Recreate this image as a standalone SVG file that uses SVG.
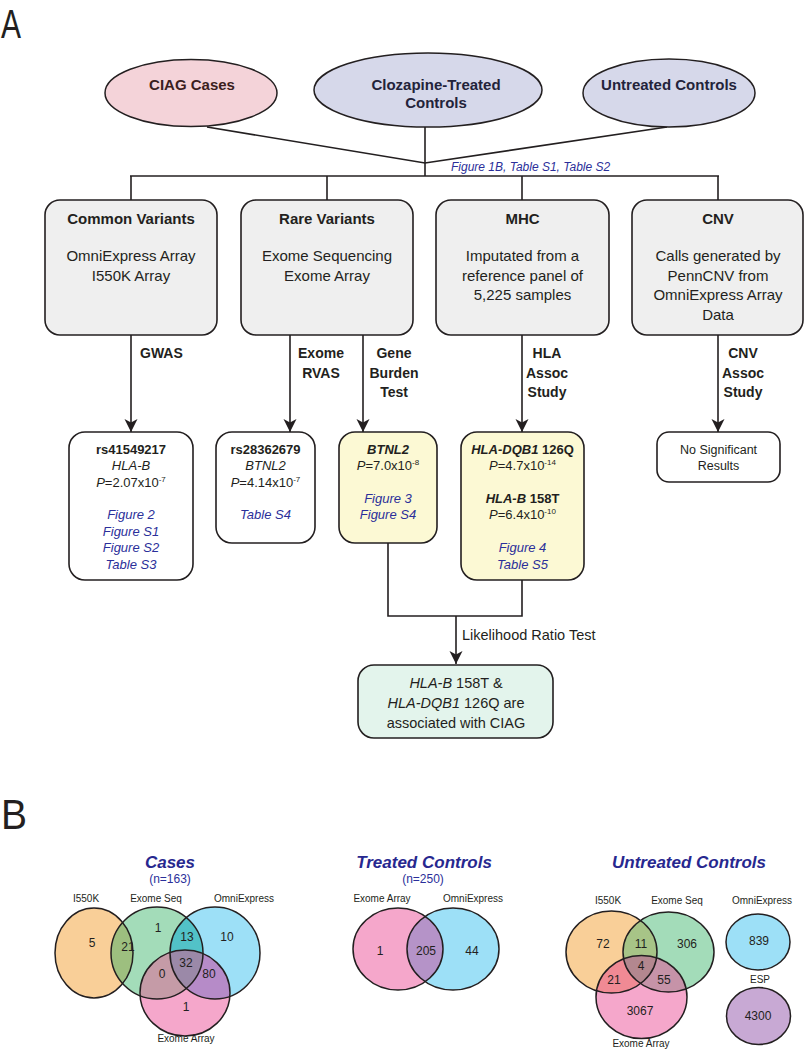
<svg xmlns="http://www.w3.org/2000/svg" width="805" height="1050" viewBox="0 0 805 1050">
<style>
text{font-family:"Liberation Sans",Arial,sans-serif;fill:#231f20}
.b{font-weight:bold}
.i{font-style:italic}
.lnk{font-style:italic;fill:#2b2f9a}
.ttl{font-style:italic;font-weight:bold;fill:#27288f}
.m{text-anchor:middle}
.box{fill:#efefef;stroke:#231f20;stroke-width:1.6}
.wbox{fill:#ffffff;stroke:#231f20;stroke-width:1.6}
.ybox{fill:#fcf9d4;stroke:#231f20;stroke-width:1.6}
.gbox{fill:#e3f4ec;stroke:#231f20;stroke-width:1.6}
.conn{stroke:#231f20;stroke-width:1.6;fill:none}
.ol{fill:none;stroke:#231f20;stroke-width:1.5}
.top{font-size:15px;font-weight:bold}
.bt{font-size:15px}
.lab{font-size:14px;font-weight:bold}
.r{font-size:13px}
.vl{font-size:10px}
.vn{font-size:12px}
</style>
<defs>
<marker id="arr" markerUnits="userSpaceOnUse" viewBox="0 0 14 14" markerWidth="14" markerHeight="14" refX="13" refY="7" orient="auto">
<path d="M0,0.5 L13,7 L0,13.5 L3.5,7 Z" fill="#231f20"/>
</marker>
<clipPath id="cO1"><ellipse cx="94" cy="953" rx="39" ry="45"/></clipPath>
<clipPath id="cG1"><ellipse cx="157" cy="953" rx="46" ry="46"/></clipPath>
<clipPath id="cC1"><ellipse cx="215" cy="953" rx="45" ry="46"/></clipPath>
<clipPath id="cC2"><ellipse cx="453" cy="949" rx="46" ry="41"/></clipPath>
<clipPath id="cO3"><ellipse cx="611.5" cy="952" rx="45.5" ry="41"/></clipPath>
<clipPath id="cG3"><ellipse cx="668.5" cy="952" rx="45.5" ry="40"/></clipPath>
</defs>

<text x="1" y="38" font-size="41" textLength="20" lengthAdjust="spacingAndGlyphs">A</text>
<text x="1" y="829" font-size="43" textLength="26" lengthAdjust="spacingAndGlyphs">B</text>

<g id="connectors">
<polyline class="conn" points="207,127 425,163 667,127"/>
<line class="conn" x1="425" y1="127" x2="425" y2="176"/>
<line class="conn" x1="130" y1="176" x2="719" y2="176"/>
<line class="conn" x1="131" y1="176" x2="131" y2="200"/>
<line class="conn" x1="327" y1="176" x2="327" y2="200"/>
<line class="conn" x1="522" y1="176" x2="522" y2="200"/>
<line class="conn" x1="718" y1="176" x2="718" y2="200"/>
<line class="conn" x1="131" y1="335" x2="131" y2="432" marker-end="url(#arr)"/>
<line class="conn" x1="290" y1="335" x2="290" y2="432" marker-end="url(#arr)"/>
<line class="conn" x1="363" y1="335" x2="363" y2="432" marker-end="url(#arr)"/>
<line class="conn" x1="522" y1="335" x2="522" y2="432" marker-end="url(#arr)"/>
<line class="conn" x1="718" y1="335" x2="718" y2="432" marker-end="url(#arr)"/>
<polyline class="conn" points="388,543 388,616 522,616 522,580"/>
<line class="conn" x1="456" y1="616" x2="456" y2="664" marker-end="url(#arr)"/>
<text x="451" y="171" font-size="12" class="lnk">Figure 1B, Table S1, Table S2</text>
<text x="140" y="358" class="lab">GWAS</text>
<text x="321" y="358" class="lab m">Exome</text>
<text x="321" y="378" class="lab m">RVAS</text>
<text x="394" y="358" class="lab m">Gene</text>
<text x="394" y="378" class="lab m">Burden</text>
<text x="394" y="397" class="lab m">Test</text>
<text x="547" y="358" class="lab m">HLA</text>
<text x="547" y="378" class="lab m">Assoc</text>
<text x="547" y="397" class="lab m">Study</text>
<text x="743" y="358" class="lab m">CNV</text>
<text x="743" y="378" class="lab m">Assoc</text>
<text x="743" y="397" class="lab m">Study</text>
<text x="462" y="640" font-size="14.5">Likelihood Ratio Test</text>
</g>

<g id="ciag-cases">
<ellipse cx="191" cy="93" rx="86" ry="33.5" fill="#f4d3d9" stroke="#231f20" stroke-width="1.5"/>
<text x="192" y="90" class="top m" style="fill:#3b1e1e">CIAG Cases</text>
</g>
<g id="clozapine-controls">
<ellipse cx="428" cy="90" rx="114" ry="37" fill="#d6d8ea" stroke="#231f20" stroke-width="1.5"/>
<text x="436" y="90" class="top m" style="fill:#23233a">Clozapine-Treated</text>
<text x="436" y="108" class="top m" style="fill:#23233a">Controls</text>
</g>
<g id="untreated-controls">
<ellipse cx="669" cy="93" rx="86" ry="34" fill="#d6d8ea" stroke="#231f20" stroke-width="1.5"/>
<text x="669" y="90" class="top m" style="fill:#23233a">Untreated Controls</text>
</g>

<g id="common-variants">
<rect class="box" x="45" y="200" width="172" height="135" rx="15"/>
<text x="131" y="224" class="top m">Common Variants</text>
<text x="131" y="261" class="bt m">OmniExpress Array</text>
<text x="131" y="281" class="bt m">I550K Array</text>
</g>
<g id="rare-variants">
<rect class="box" x="241" y="200" width="172" height="135" rx="15"/>
<text x="327" y="224" class="top m">Rare Variants</text>
<text x="327" y="261" class="bt m">Exome Sequencing</text>
<text x="327" y="281" class="bt m">Exome Array</text>
</g>
<g id="mhc">
<rect class="box" x="436" y="200" width="173" height="135" rx="15"/>
<text x="522.5" y="224" class="top m">MHC</text>
<text x="522.5" y="261" class="bt m">Imputated from a</text>
<text x="522.5" y="280.5" class="bt m">reference panel of</text>
<text x="522.5" y="300" class="bt m">5,225 samples</text>
</g>
<g id="cnv">
<rect class="box" x="632" y="200" width="171" height="135" rx="15"/>
<text x="718" y="224" class="top m">CNV</text>
<text x="718" y="261" class="bt m">Calls generated by</text>
<text x="718" y="280.5" class="bt m">PennCNV from</text>
<text x="718" y="300" class="bt m">OmniExpress Array</text>
<text x="718" y="319.5" class="bt m">Data</text>
</g>

<g id="rs41549217">
<rect class="wbox" x="69" y="432" width="124" height="148" rx="16"/>
<text x="131" y="454" class="r b m">rs41549217</text>
<text x="131" y="470" class="r i m">HLA-B</text>
<text x="131" y="487" class="r m"><tspan class="i">P</tspan>=2.07x10<tspan font-size="8" dy="-5">-7</tspan></text>
<text x="131" y="519" class="r lnk m">Figure 2</text>
<text x="131" y="535.5" class="r lnk m">Figure S1</text>
<text x="131" y="552" class="r lnk m">Figure S2</text>
<text x="131" y="568.5" class="r lnk m">Table S3</text>
</g>
<g id="rs28362679">
<rect class="wbox" x="216" y="432" width="99" height="111" rx="16"/>
<text x="265.5" y="454" class="r b m">rs28362679</text>
<text x="265.5" y="470" class="r i m">BTNL2</text>
<text x="265.5" y="487" class="r m"><tspan class="i">P</tspan>=4.14x10<tspan font-size="8" dy="-5">-7</tspan></text>
<text x="265.5" y="519" class="r lnk m">Table S4</text>
</g>
<g id="btnl2">
<rect class="ybox" x="339" y="432" width="98" height="111" rx="16"/>
<text x="388" y="454" class="r b i m">BTNL2</text>
<text x="388" y="470" class="r m"><tspan class="i">P</tspan>=7.0x10<tspan font-size="8" dy="-5">-8</tspan></text>
<text x="388" y="503" class="r lnk m">Figure 3</text>
<text x="388" y="519" class="r lnk m">Figure S4</text>
</g>
<g id="hla">
<rect class="ybox" x="461" y="432" width="123" height="148" rx="16"/>
<text x="522.5" y="454" class="r b m"><tspan class="i">HLA-DQB1</tspan> 126Q</text>
<text x="522.5" y="470" class="r m"><tspan class="i">P</tspan>=4.7x10<tspan font-size="8" dy="-5">-14</tspan></text>
<text x="522.5" y="503" class="r b m"><tspan class="i">HLA-B</tspan> 158T</text>
<text x="522.5" y="519" class="r m"><tspan class="i">P</tspan>=6.4x10<tspan font-size="8" dy="-5">-10</tspan></text>
<text x="522.5" y="552" class="r lnk m">Figure 4</text>
<text x="522.5" y="568.5" class="r lnk m">Table S5</text>
</g>
<g id="no-significant">
<rect class="wbox" x="657" y="432" width="123" height="50" rx="12"/>
<text x="718.5" y="454" font-size="12.5" class="m">No Significant</text>
<text x="718.5" y="470" font-size="12.5" class="m">Results</text>
</g>
<g id="conclusion">
<rect class="gbox" x="358" y="665" width="195" height="73" rx="16"/>
<text x="456" y="688" font-size="14.5" class="m"><tspan class="i">HLA-B</tspan> 158T &amp;</text>
<text x="456" y="708" font-size="14.5" class="m"><tspan class="i">HLA-DQB1</tspan> 126Q are</text>
<text x="456" y="728" font-size="14.5" class="m">associated with CIAG</text>
</g>

<g id="venn-cases">
<text x="170" y="868" font-size="17" class="ttl m">Cases</text>
<text x="170" y="883" font-size="12" class="m" style="fill:#2b2f9a">(n=163)</text>
<ellipse cx="94" cy="953" rx="39" ry="45" fill="#f9cf98"/>
<ellipse cx="157" cy="953" rx="46" ry="46" fill="#a3dcb9"/>
<ellipse cx="215" cy="953" rx="45" ry="46" fill="#9de0f7"/>
<ellipse cx="185" cy="993" rx="45" ry="43" fill="#f5a7cb"/>
<ellipse cx="157" cy="953" rx="46" ry="46" fill="#9dbf7f" clip-path="url(#cO1)"/>
<ellipse cx="157" cy="953" rx="46" ry="46" fill="#52c2c8" clip-path="url(#cC1)"/>
<ellipse cx="185" cy="993" rx="45" ry="43" fill="#c59ba7" clip-path="url(#cG1)"/>
<ellipse cx="185" cy="993" rx="45" ry="43" fill="#b68bc8" clip-path="url(#cC1)"/>
<g clip-path="url(#cG1)"><ellipse cx="185" cy="993" rx="45" ry="43" fill="#9b89a8" clip-path="url(#cC1)"/></g>
<ellipse class="ol" cx="94" cy="953" rx="39" ry="45"/>
<ellipse class="ol" cx="157" cy="953" rx="46" ry="46"/>
<ellipse class="ol" cx="215" cy="953" rx="45" ry="46"/>
<ellipse class="ol" cx="185" cy="993" rx="45" ry="43"/>
<text x="86" y="902" class="vl m">I550K</text>
<text x="156" y="902" class="vl m">Exome Seq</text>
<text x="244" y="902" class="vl m">OmniExpress</text>
<text x="186" y="1042" class="vl m">Exome Array</text>
<text x="92" y="947" class="vn m">5</text>
<text x="128" y="951" class="vn m">21</text>
<text x="158" y="932" class="vn m">1</text>
<text x="187" y="941" class="vn m">13</text>
<text x="227" y="941" class="vn m">10</text>
<text x="186" y="967" class="vn m">32</text>
<text x="162" y="978" class="vn m">0</text>
<text x="209" y="978" class="vn m">80</text>
<text x="186" y="1011" class="vn m">1</text>
</g>

<g id="venn-treated">
<text x="424" y="868" font-size="17" class="ttl m">Treated Controls</text>
<text x="423" y="883" font-size="12" class="m" style="fill:#2b2f9a">(n=250)</text>
<ellipse cx="398" cy="949" rx="45" ry="41" fill="#f5a7cb"/>
<ellipse cx="453" cy="949" rx="46" ry="41" fill="#9de0f7"/>
<ellipse cx="398" cy="949" rx="45" ry="41" fill="#b593c8" clip-path="url(#cC2)"/>
<ellipse class="ol" cx="398" cy="949" rx="45" ry="41"/>
<ellipse class="ol" cx="453" cy="949" rx="46" ry="41"/>
<text x="382" y="902" class="vl m">Exome Array</text>
<text x="473" y="902" class="vl m">OmniExpress</text>
<text x="380" y="955" class="vn m">1</text>
<text x="426" y="955" class="vn m">205</text>
<text x="472" y="955" class="vn m">44</text>
</g>

<g id="venn-untreated">
<text x="689" y="868" font-size="17" class="ttl m">Untreated Controls</text>
<ellipse cx="611.5" cy="952" rx="45.5" ry="41" fill="#f9cf98"/>
<ellipse cx="668.5" cy="952" rx="45.5" ry="40" fill="#a3dcb9"/>
<ellipse cx="641.5" cy="997" rx="45.5" ry="41.5" fill="#f5a7cb"/>
<ellipse cx="668.5" cy="952" rx="45.5" ry="40" fill="#a7c487" clip-path="url(#cO3)"/>
<ellipse cx="641.5" cy="997" rx="45.5" ry="41.5" fill="#f08a94" clip-path="url(#cO3)"/>
<ellipse cx="641.5" cy="997" rx="45.5" ry="41.5" fill="#c693a8" clip-path="url(#cG3)"/>
<g clip-path="url(#cO3)"><ellipse cx="641.5" cy="997" rx="45.5" ry="41.5" fill="#b3878f" clip-path="url(#cG3)"/></g>
<ellipse class="ol" cx="611.5" cy="952" rx="45.5" ry="41"/>
<ellipse class="ol" cx="668.5" cy="952" rx="45.5" ry="40"/>
<ellipse class="ol" cx="641.5" cy="997" rx="45.5" ry="41.5"/>
<ellipse cx="758" cy="942" rx="32" ry="28" fill="#9de0f7" stroke="#231f20" stroke-width="1.5"/>
<ellipse cx="758.5" cy="1016" rx="32" ry="28.5" fill="#c8a9d4" stroke="#231f20" stroke-width="1.5"/>
<text x="608" y="904" class="vl m">I550K</text>
<text x="677" y="904" class="vl m">Exome Seq</text>
<text x="762" y="904" class="vl m">OmniExpress</text>
<text x="760" y="983" class="vl m">ESP</text>
<text x="641" y="1047" class="vl m">Exome Array</text>
<text x="603" y="948" class="vn m">72</text>
<text x="641" y="948" class="vn m">11</text>
<text x="687" y="948" class="vn m">306</text>
<text x="641" y="970" class="vn m">4</text>
<text x="614" y="984" class="vn m">21</text>
<text x="664" y="984" class="vn m">55</text>
<text x="640" y="1015" class="vn m">3067</text>
<text x="759" y="945" class="vn m">839</text>
<text x="758" y="1020" class="vn m">4300</text>
</g>
</svg>
